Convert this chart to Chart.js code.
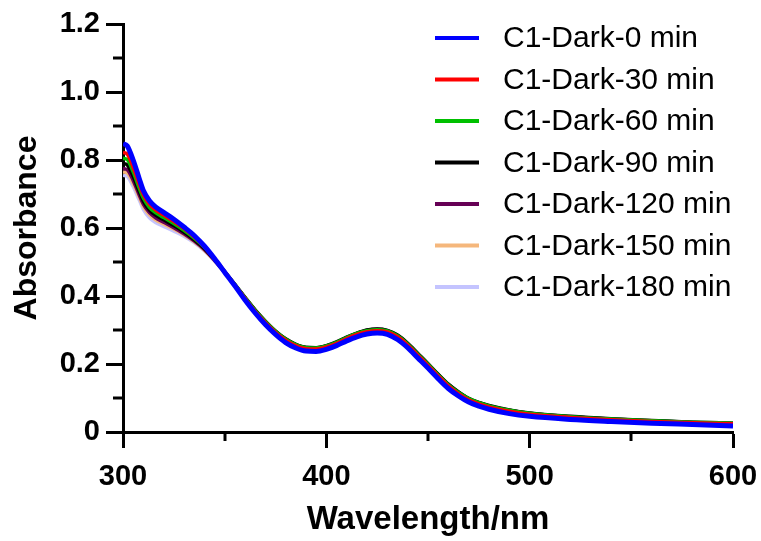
<!DOCTYPE html>
<html>
<head>
<meta charset="utf-8">
<script src="https://cdn.jsdelivr.net/npm/chart.js@4.4.1/dist/chart.umd.min.js"></script>
<style>
  body { margin: 0; background: #fff; }
  #wrap { width: 761px; height: 541px; }
</style>
</head>
<body>
<div id="wrap"><canvas id="uvChart" width="761" height="541"></canvas></div>
<script>
// wavelengths (nm) shared by every spectrum
var wavelengths = [300,302,305,308,310,313,316,320,325,330,335,340,345,350,355,360,365,370,375,380,385,390,395,400,405,410,415,420,425,430,435,440,445,450,455,460,465,470,475,480,490,500,520,540,560,580,600];

var dark0 = [0.848,0.842,0.800,0.745,0.710,0.680,0.662,0.646,0.626,0.603,0.578,0.547,0.510,0.470,0.430,0.388,0.350,0.316,0.287,0.263,0.247,0.238,0.237,0.243,0.254,0.268,0.280,0.288,0.291,0.287,0.272,0.248,0.218,0.188,0.157,0.128,0.106,0.088,0.076,0.067,0.054,0.046,0.037,0.031,0.026,0.022,0.018];
var dark30 = [0.822,0.818,0.778,0.728,0.698,0.670,0.653,0.638,0.619,0.598,0.574,0.545,0.510,0.472,0.433,0.393,0.355,0.322,0.293,0.270,0.254,0.245,0.244,0.250,0.261,0.275,0.287,0.295,0.298,0.294,0.280,0.256,0.226,0.196,0.165,0.136,0.113,0.095,0.083,0.074,0.061,0.052,0.043,0.036,0.031,0.027,0.024];
var dark60 = [0.805,0.802,0.765,0.717,0.688,0.661,0.645,0.631,0.613,0.593,0.570,0.543,0.509,0.472,0.434,0.395,0.358,0.325,0.296,0.273,0.257,0.248,0.247,0.253,0.264,0.278,0.290,0.298,0.301,0.297,0.283,0.259,0.229,0.199,0.168,0.139,0.116,0.098,0.086,0.077,0.064,0.055,0.045,0.038,0.033,0.029,0.026];
var dark90 = [0.790,0.786,0.752,0.707,0.679,0.653,0.638,0.624,0.607,0.588,0.566,0.540,0.507,0.471,0.434,0.396,0.359,0.326,0.297,0.274,0.258,0.249,0.248,0.254,0.265,0.279,0.291,0.300,0.303,0.299,0.285,0.261,0.231,0.201,0.170,0.141,0.118,0.099,0.087,0.078,0.065,0.056,0.046,0.039,0.034,0.029,0.026];
var dark120 = [0.775,0.772,0.740,0.697,0.670,0.645,0.630,0.617,0.601,0.583,0.562,0.537,0.505,0.470,0.433,0.395,0.358,0.325,0.296,0.273,0.257,0.248,0.247,0.253,0.264,0.278,0.290,0.299,0.302,0.298,0.284,0.260,0.230,0.200,0.169,0.140,0.117,0.098,0.086,0.077,0.064,0.055,0.045,0.038,0.033,0.028,0.025];
var dark150 = [0.765,0.762,0.731,0.690,0.663,0.639,0.624,0.612,0.597,0.580,0.560,0.535,0.504,0.469,0.432,0.394,0.357,0.324,0.295,0.272,0.256,0.247,0.246,0.252,0.263,0.277,0.289,0.298,0.301,0.297,0.283,0.259,0.229,0.199,0.168,0.139,0.116,0.097,0.085,0.076,0.063,0.054,0.044,0.037,0.032,0.028,0.025];
var dark180 = [0.755,0.752,0.722,0.682,0.655,0.630,0.616,0.605,0.591,0.576,0.557,0.533,0.503,0.468,0.431,0.393,0.356,0.323,0.294,0.271,0.255,0.246,0.245,0.251,0.262,0.276,0.288,0.297,0.300,0.296,0.282,0.258,0.228,0.198,0.167,0.138,0.115,0.096,0.084,0.075,0.062,0.053,0.043,0.036,0.031,0.027,0.024];

var seriesNames = ['C1-Dark-0 min','C1-Dark-30 min','C1-Dark-60 min','C1-Dark-90 min','C1-Dark-120 min','C1-Dark-150 min','C1-Dark-180 min'];
var seriesData = [dark0, dark30, dark60, dark90, dark120, dark150, dark180];
var seriesColors = ['#0000ff','#ff0000','#00c000','#000000','#660055','#f5b77c','#c4c4ff'];

var xTicks = [300, 400, 500, 600];
var xMinorTicks = [350, 450, 550];
var yMinorTicks = [0.1, 0.3, 0.5, 0.7, 0.9, 1.1];

function points(arr) {
    return arr.map(function (v, i) { return {x: wavelengths[i], y: v}; });
}

var datasets = seriesData.map(function (arr, i) {
    return {
        label: seriesNames[i],
        data: points(arr),
        borderColor: seriesColors[i],
        backgroundColor: seriesColors[i],
        borderWidth: i === 0 ? 5 : 3.5,
        pointRadius: 0,
        cubicInterpolationMode: 'monotone',
        fill: false
    };
});

// minor ticks drawn off the chart's own scales
var minorTicks = {
    id: 'minorTicks',
    afterDraw: function (chart) {
        var ctx = chart.ctx;
        var xs = chart.scales.x, ys = chart.scales.y;
        var area = chart.chartArea;
        ctx.save();
        ctx.strokeStyle = '#000';
        ctx.lineWidth = 3;
        xMinorTicks.forEach(function (v) {
            var px = Math.round(xs.getPixelForValue(v));
            ctx.beginPath();
            ctx.moveTo(px, area.bottom);
            ctx.lineTo(px, area.bottom + 9);
            ctx.stroke();
        });
        yMinorTicks.forEach(function (v) {
            var py = Math.round(ys.getPixelForValue(v));
            ctx.beginPath();
            ctx.moveTo(area.left, py);
            ctx.lineTo(area.left - 10, py);
            ctx.stroke();
        });
        ctx.restore();
    }
};

// legend in the upper right, like the original
var sideLegend = {
    id: 'sideLegend',
    afterDraw: function (chart) {
        var ctx = chart.ctx;
        ctx.save();
        ctx.font = '30px "Liberation Sans", Arial, sans-serif';
        ctx.textBaseline = 'middle';
        ctx.textAlign = 'left';
        chart.data.datasets.forEach(function (ds, i) {
            var y = 38 + i * 41.5;
            ctx.strokeStyle = ds.borderColor;
            ctx.lineWidth = 4;
            ctx.beginPath();
            ctx.moveTo(435, y);
            ctx.lineTo(479, y);
            ctx.stroke();
            ctx.fillStyle = '#000';
            ctx.fillText(ds.label, 503, y + 1);
        });
        ctx.restore();
    }
};

var ctx = document.getElementById('uvChart').getContext('2d');
var uvChart = new Chart(ctx, {
    type: 'line',
    data: { datasets: datasets },
    plugins: [minorTicks, sideLegend],
    options: {
        responsive: false,
        animation: false,
        layout: { padding: { left: 0, top: 24, right: 28, bottom: 0 } },
        plugins: {
            legend: { display: false },
            tooltip: { enabled: false }
        },
        scales: {
            x: {
                type: 'linear',
                min: 300,
                max: 600,
                afterFit: function (scale) {
                    scale.height = 109;
                    scale.paddingLeft = 0;
                    scale.paddingRight = 0;
                },
                afterBuildTicks: function (scale) {
                    scale.ticks = xTicks.map(function (v) { return {value: v}; });
                },
                border: { display: true, color: '#000', width: 3 },
                grid: { drawOnChartArea: false, drawTicks: true, tickLength: 16, tickWidth: 3, tickColor: '#000' },
                ticks: {
                    autoSkip: false,
                    maxRotation: 0,
                    padding: 12,
                    color: '#000',
                    font: { family: '"Liberation Sans", Arial, sans-serif', size: 29, weight: 'bold' }
                },
                title: {
                    display: true,
                    text: 'Wavelength/nm',
                    color: '#000',
                    padding: { top: 0, bottom: 1 },
                    font: { family: '"Liberation Sans", Arial, sans-serif', size: 33, weight: 'bold' }
                }
            },
            y: {
                min: 0,
                max: 1.2,
                afterFit: function (scale) {
                    scale.width = 123;
                    scale.paddingTop = 0;
                    scale.paddingBottom = 0;
                },
                border: { display: true, color: '#000', width: 3 },
                grid: { drawOnChartArea: false, drawTicks: true, tickLength: 17, tickWidth: 3, tickColor: '#000' },
                ticks: {
                    stepSize: 0.2,
                    padding: 6,
                    color: '#000',
                    font: { family: '"Liberation Sans", Arial, sans-serif', size: 29, weight: 'bold' },
                    callback: function (v) { return v === 0 ? '0' : v.toFixed(1); }
                },
                title: {
                    display: true,
                    text: 'Absorbance',
                    color: '#000',
                    padding: { top: 8, bottom: 0 },
                    font: { family: '"Liberation Sans", Arial, sans-serif', size: 32, weight: 'bold' }
                }
            }
        }
    }
});
</script>
</body>
</html>
